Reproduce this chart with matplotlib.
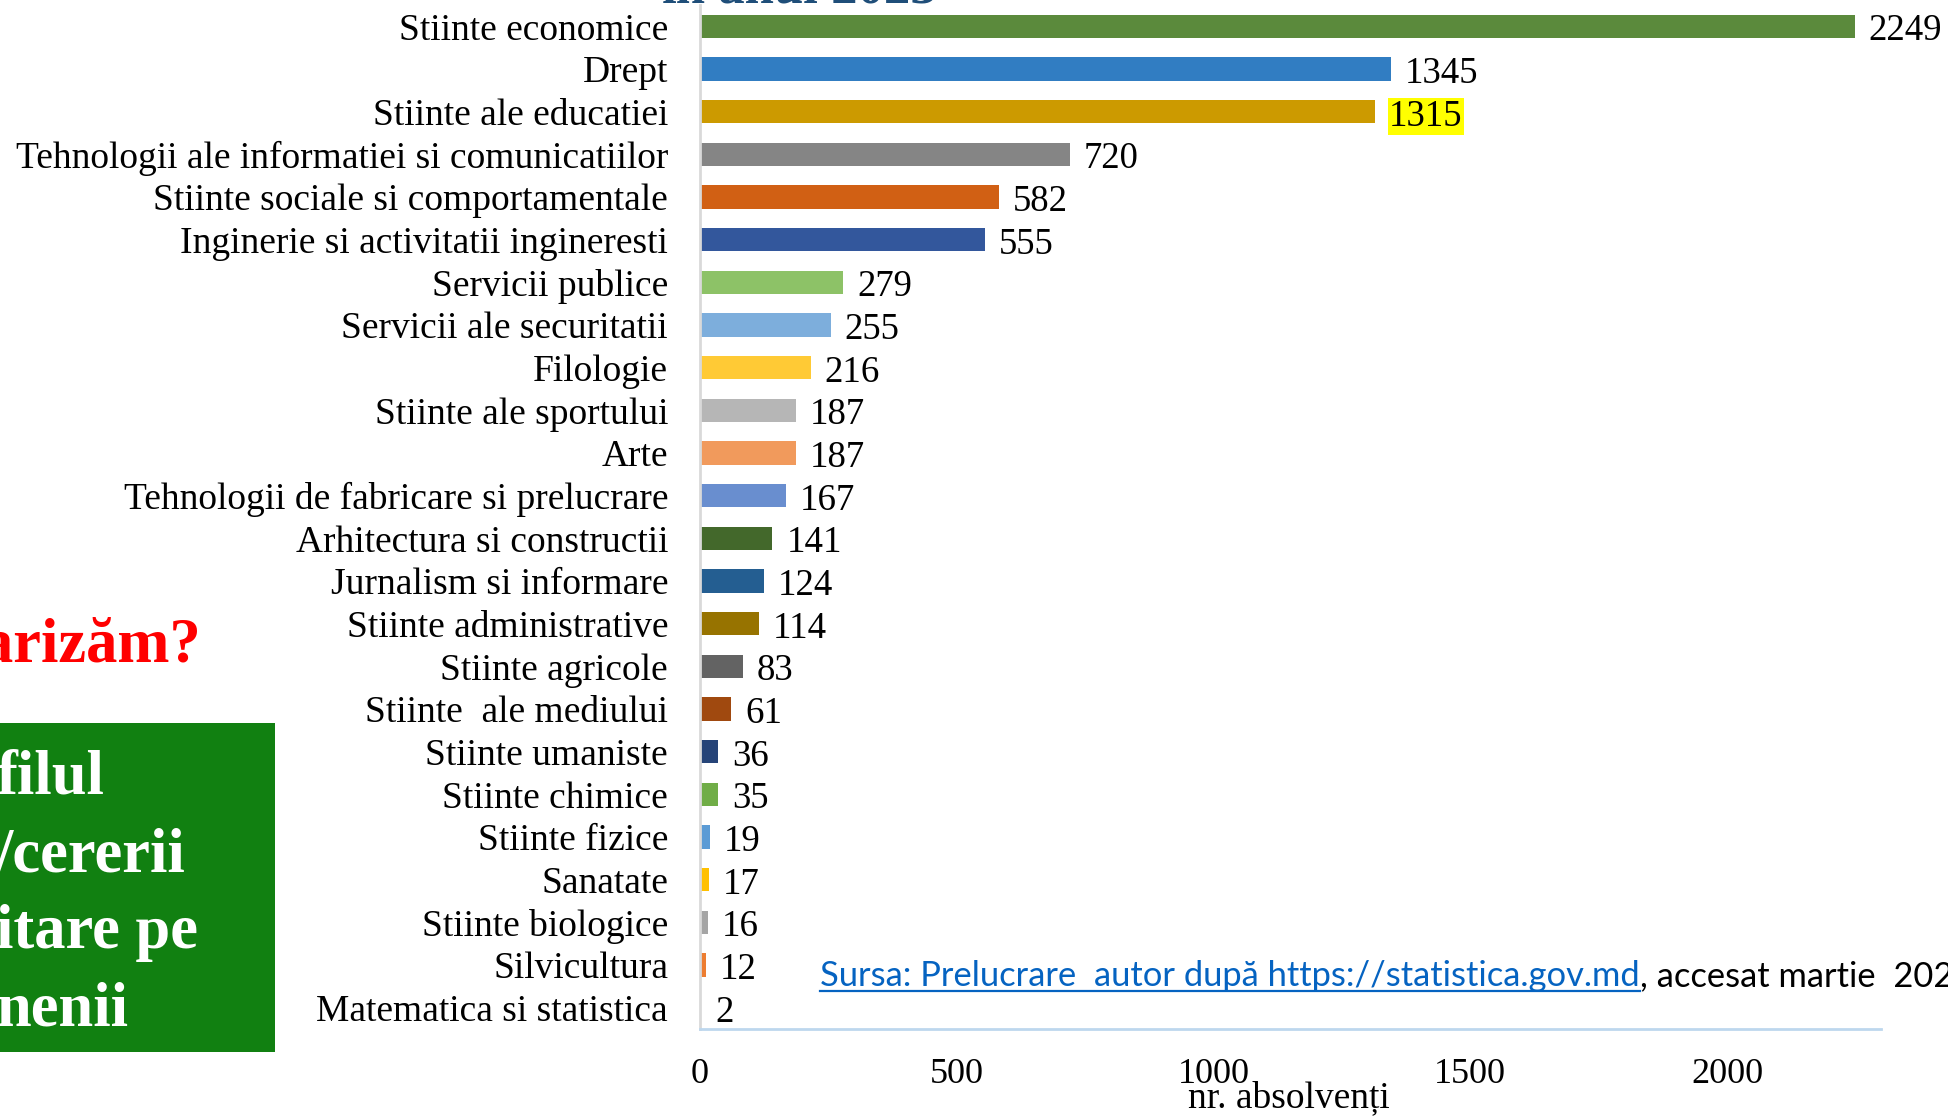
import matplotlib
matplotlib.use("Agg")
import matplotlib.pyplot as plt
from matplotlib.patches import Rectangle
from matplotlib.lines import Line2D

# date: absolventi pe domenii, anul 2023
domenii = [
    "Stiinte economice", "Drept", "Stiinte ale educatiei",
    "Tehnologii ale informatiei si comunicatiilor",
    "Stiinte sociale si comportamentale",
    "Inginerie si activitatii ingineresti", "Servicii publice",
    "Servicii ale securitatii", "Filologie", "Stiinte ale sportului", "Arte",
    "Tehnologii de fabricare si prelucrare", "Arhitectura si constructii",
    "Jurnalism si informare", "Stiinte administrative", "Stiinte agricole",
    "Stiinte  ale mediului", "Stiinte umaniste", "Stiinte chimice",
    "Stiinte fizice", "Sanatate", "Stiinte biologice", "Silvicultura",
    "Matematica si statistica",
]
absolventi = [2249, 1345, 1315, 720, 582, 555, 279, 255, 216, 187, 187, 167,
              141, 124, 114, 83, 61, 36, 35, 19, 17, 16, 12, 2]
culori = [
    "#5B8A3C", "#317DC2", "#CC9A00", "#858585", "#D16014", "#33579C",
    "#8DC267", "#7DAEDC", "#FFCA35", "#B6B6B6", "#F19A5C", "#698ECF",
    "#43682B", "#245E91", "#977300", "#636363", "#A0490F", "#264478",
    "#70AD47", "#5B9BD5", "#FFC000", "#A5A5A5", "#ED7D31", "#4472C4",
]
ticks_x = [0, 500, 1000, 1500, 2000]

serif = "Liberation Serif"

fig = plt.figure(figsize=(19.49, 11.16), dpi=100)
ax = fig.add_axes([700 / 1949, 87 / 1116, 1181 / 1949, 1024 / 1116])

y = list(range(len(domenii)))
ax.barh(y, absolventi, height=0.55, color=culori)
ax.set_xlim(0, 2300)
ax.set_ylim(len(domenii) - 0.5, -0.5)

ax.set_yticks(y)
ax.set_yticklabels(domenii, fontfamily=serif, fontsize=27)
ax.set_xticks(ticks_x)
ax.set_xticklabels([str(t) for t in ticks_x], fontfamily=serif, fontsize=26)
ax.tick_params(axis="y", length=0, pad=23)
ax.tick_params(axis="x", length=0, pad=21)

for s in ["top", "right"]:
    ax.spines[s].set_visible(False)
ax.spines["left"].set_color("#D9D9D9")
ax.spines["left"].set_linewidth(2)
ax.spines["bottom"].set_color("#BDD7EE")
ax.spines["bottom"].set_linewidth(2)

for i, v in enumerate(absolventi):
    kw = {}
    if v == 1315:
        kw["bbox"] = dict(facecolor="#FFFF00", edgecolor="none", pad=1)
    ax.annotate(str(v), (v, i), xytext=(10, -3.5), textcoords="offset points",
                va="center", ha="left", fontfamily=serif, fontsize=26.5, **kw)

fig.text(1289 / 1949, 1 - 1098 / 1116, "nr. absolvenți", ha="center",
         va="center", fontfamily=serif, fontsize=27)

# titlu taiat sus
fig.text(662 / 1949, 1 - 4 / 1116, "în anul 2023", ha="left", va="baseline",
         fontfamily=serif, fontweight="bold", fontsize=38, color="#1F4E79")

# text rosu taiat in stanga
fig.text(-18 / 1949, 1 - 661 / 1116, "arizăm?", ha="left", va="baseline",
         fontfamily=serif, fontweight="bold", fontsize=45, color="#FF0000")

# caseta verde
fig.patches.append(Rectangle((0, 1 - 1052 / 1116), 275 / 1949, 329 / 1116,
                             transform=fig.transFigure, facecolor="#118011",
                             edgecolor="none"))
linii = ["filul", "/cererii", "itare pe", "nenii"]
baze = [793, 872, 948, 1025]
for t, b in zip(linii, baze):
    fig.text(-4 / 1949, 1 - b / 1116, t, ha="left", va="baseline",
             fontfamily=serif, fontweight="bold", fontsize=45, color="white")

# sursa
sans = ["Lato", "DejaVu Sans"]
ybl = 986
link = fig.text(820 / 1949, 1 - ybl / 1116,
                "Sursa: Prelucrare  autor după https://statistica.gov.md",
                ha="left", va="baseline", fontfamily=sans, fontsize=24.8,
                color="#0563C1")
fig.canvas.draw()
bb = link.get_window_extent()
ybase = (1116 - ybl - 5) / 1116
fig.lines.append(Line2D([bb.x0 / 1949, bb.x1 / 1949], [ybase, ybase],
                        transform=fig.transFigure, color="#0563C1", lw=1.6))
fig.text(bb.x1 / 1949, 1 - ybl / 1116, ", accesat martie  2024",
         ha="left", va="baseline", fontfamily=sans, fontsize=24.8,
         color="black")

fig.savefig("out.png", dpi=100)
